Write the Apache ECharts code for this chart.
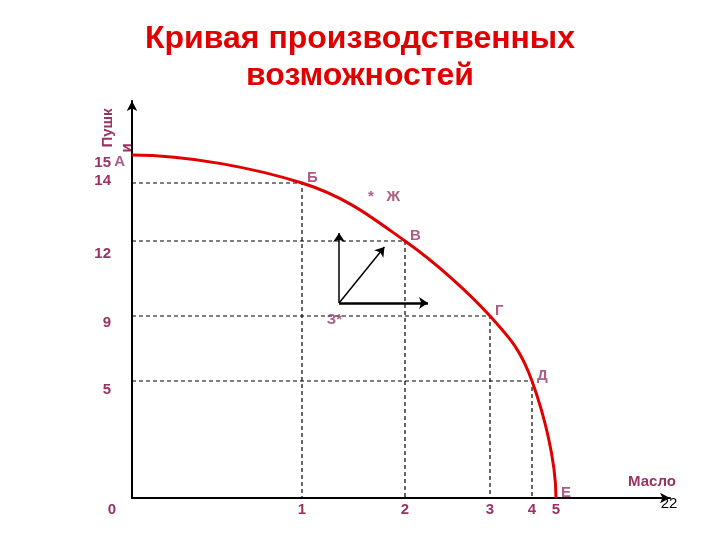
<!DOCTYPE html>
<html>
<head>
<meta charset="utf-8">
<script src="https://cdn.jsdelivr.net/npm/echarts@6/dist/echarts.min.js"></script>
<style>
  html, body { margin: 0; padding: 0; background: #fff; }
  #main { width: 720px; height: 540px; }
</style>
</head>
<body>
<div id="main"></div>
<script>
// точки кривой производственных возможностей
const pointNames = ['А', 'Б', 'В', 'Г', 'Д', 'Е']
const butter = [0, 1, 2, 3, 4, 5]
const guns = [15, 14, 12, 9, 5, 0]

// подписи делений
const butterTicks = [0, 1, 2, 3, 4, 5]
const gunsTicks = [5, 9, 12, 14, 15]

// оси схематичные: деления стоят неравномерно (значение -> место на оси)
const butterScale = [[0, 0], [1, 170], [2, 273], [3, 358], [4, 400], [5, 424]]
const gunsScale = [[0, 0], [5, 117], [9, 182], [12, 257], [14, 315], [15, 343]]

// точки внутри и вне кривой
const extraNames = ['Ж', 'З']
const extraButter = [1.68, 1.35]
const extraGuns = [13.66, 9]

// стрелки из точки З
const arrowStart = [1.36, 9.52]
const arrowEndButter = [1.36, 1.8, 2.27]
const arrowEndGuns = [12.28, 11.76, 9.52]

const FONT = '"Liberation Sans", Arial, sans-serif'
const PURPLE = '#993366'

function toAxis(scale, v) {
  for (let i = 1; i < scale.length; i++) {
    const [v0, p0] = scale[i - 1]
    const [v1, p1] = scale[i]
    if (v <= v1 || i === scale.length - 1) {
      return p0 + (v - v0) / (v1 - v0) * (p1 - p0)
    }
  }
}
const px = v => toAxis(butterScale, v)
const py = v => toAxis(gunsScale, v)

const curve = butter.map((b, i) => [px(b), py(guns[i])])

// пунктир от осей к точкам Б..Д
const guides = []
for (let i = 1; i < butter.length - 1; i++) {
  const x = px(butter[i])
  const y = py(guns[i])
  guides.push({ coords: [[0, y], [x, y], [x, 0]] })
}

const arrows = arrowEndButter.map((b, i) => ({
  coords: [[px(arrowStart[0]), py(arrowStart[1])], [px(b), py(arrowEndGuns[i])]],
  lineStyle: { width: i === 2 ? 2.5 : 1.5 }
}))

// гладкая кривая через точки (Катмулл-Ром), в начале горизонтально, в конце вертикально
function renderCurve(params, api) {
  if (params.dataIndex !== 0) return null
  const p = curve.map(c => api.coord(c))
  const n = p.length
  const m = p.map((pt, i) => {
    if (i === 0) return [p[1][0] - p[0][0], 0]
    if (i === n - 1) return [0, p[n - 1][1] - p[n - 2][1]]
    return [(p[i + 1][0] - p[i - 1][0]) / 2, (p[i + 1][1] - p[i - 1][1]) / 2]
  })
  let d = 'M' + p[0][0] + ' ' + p[0][1]
  for (let i = 0; i < n - 1; i++) {
    const c1 = [p[i][0] + m[i][0] / 3, p[i][1] + m[i][1] / 3]
    const c2 = [p[i + 1][0] - m[i + 1][0] / 3, p[i + 1][1] - m[i + 1][1] / 3]
    d += ' C' + c1.join(' ') + ' ' + c2.join(' ') + ' ' + p[i + 1].join(' ')
  }
  return {
    type: 'path',
    shape: { pathData: d },
    style: { fill: 'none', stroke: '#e00000', lineWidth: 3 }
  }
}

// сдвиг подписей оси Y по вертикали, как на слайде
const yLabelShift = { 5: 9, 9: 7, 12: 13, 14: -2, 15: 8 }
const yRich = {}
gunsTicks.forEach(t => {
  const s = yLabelShift[t]
  yRich['t' + t] = {
    color: PURPLE, fontSize: 15, fontWeight: 'bold', fontFamily: FONT,
    padding: s >= 0 ? [2 * s, 0, 0, 0] : [0, 0, -2 * s, 0]
  }
})

const chart = echarts.init(document.getElementById('main'))

const option = {
  backgroundColor: '#fff',
  animation: false,
  title: {
    text: 'Кривая производственных\nвозможностей',
    left: 'center',
    top: 16,
    textStyle: {
      color: '#e00000',
      fontSize: 32,
      fontWeight: 'bold',
      fontFamily: FONT,
      lineHeight: 37
    }
  },
  grid: { left: 132, right: 50, top: 101, bottom: 42 },
  xAxis: {
    type: 'value',
    min: 0,
    max: 538,
    splitLine: { show: false },
    axisTick: { show: false },
    axisLine: {
      onZero: false,
      symbol: ['none', 'arrow'],
      symbolSize: [8, 10],
      lineStyle: { color: '#000', width: 2 }
    },
    axisLabel: {
      customValues: butterTicks.map(px),
      margin: 4,
      color: PURPLE,
      fontSize: 15,
      fontWeight: 'bold',
      fontFamily: FONT,
      formatter: v => {
        const i = butterTicks.findIndex(t => Math.abs(px(t) - v) < 0.5)
        if (i === 0) return '{o|0}'
        return i >= 0 ? String(butterTicks[i]) : ''
      },
      rich: {
        o: { padding: [0, 40, 0, 0], color: PURPLE, fontSize: 15, fontWeight: 'bold', fontFamily: FONT }
      }
    }
  },
  yAxis: {
    type: 'value',
    min: 0,
    max: 397,
    splitLine: { show: false },
    axisTick: { show: false },
    axisLine: {
      onZero: false,
      symbol: ['none', 'arrow'],
      symbolSize: [8, 10],
      lineStyle: { color: '#000', width: 2 }
    },
    axisLabel: {
      customValues: gunsTicks.map(py),
      margin: 21,
      color: PURPLE,
      fontSize: 15,
      fontWeight: 'bold',
      fontFamily: FONT,
      formatter: v => {
        const i = gunsTicks.findIndex(t => Math.abs(py(t) - v) < 0.5)
        return i >= 0 ? '{t' + gunsTicks[i] + '|' + gunsTicks[i] + '}' : ''
      },
      rich: yRich
    }
  },
  graphic: [
    {
      type: 'text', x: 108, y: 128, rotation: Math.PI / 2,
      style: { text: 'Пушк', fill: PURPLE, font: 'bold 15px ' + FONT, align: 'center', verticalAlign: 'middle' }
    },
    {
      type: 'text', x: 127, y: 148, rotation: Math.PI / 2,
      style: { text: 'и', fill: PURPLE, font: 'bold 15px ' + FONT, align: 'center', verticalAlign: 'middle' }
    },
    {
      type: 'text', x: 652, y: 482,
      style: { text: 'Масло', fill: PURPLE, font: 'bold 15px ' + FONT, align: 'center', verticalAlign: 'middle' }
    },
    {
      type: 'text', x: 669, y: 504,
      style: { text: '22', fill: '#000', font: '15px ' + FONT, align: 'center', verticalAlign: 'middle' }
    }
  ],
  series: [
    {
      type: 'lines',
      coordinateSystem: 'cartesian2d',
      polyline: true,
      silent: true,
      z: 1,
      lineStyle: { color: '#000', width: 1.2, type: [4, 3], opacity: 1 },
      data: guides
    },
    {
      type: 'custom',
      renderItem: renderCurve,
      data: curve,
      silent: true,
      z: 3
    },
    {
      type: 'scatter',
      symbolSize: 0,
      z: 4,
      data: curve.map((c, i) => ({
        value: c,
        name: pointNames[i],
        label: i === 0
          ? { position: 'left', distance: 7, offset: [0, 7] }
          : { position: 'right', distance: 5, offset: [0, -5] }
      })),
      label: {
        show: true,
        formatter: p => p.name,
        color: PURPLE,
        fontSize: 15,
        fontWeight: 'bold',
        fontFamily: FONT
      }
    },
    {
      type: 'scatter',
      symbolSize: 0,
      z: 4,
      data: extraButter.map((b, i) => ({
        value: [px(b), py(extraGuns[i])],
        name: extraNames[i],
        label: i === 0
          ? { position: 'right', distance: 0, offset: [-4, 4], formatter: '*   ' + extraNames[i] }
          : { position: 'left', distance: 0, offset: [4, 4], formatter: extraNames[i] + '*' }
      })),
      label: {
        show: true,
        color: PURPLE,
        fontSize: 15,
        fontWeight: 'bold',
        fontFamily: FONT
      }
    },
    {
      type: 'lines',
      coordinateSystem: 'cartesian2d',
      silent: true,
      z: 2,
      symbol: ['none', 'arrow'],
      symbolSize: 9,
      lineStyle: { color: '#000', width: 1.5, opacity: 1 },
      data: arrows
    }
  ]
}

chart.setOption(option)
</script>
</body>
</html>
